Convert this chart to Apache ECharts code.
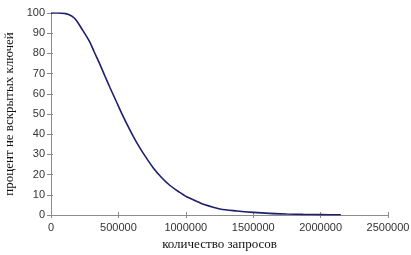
<!DOCTYPE html>
<html><head><meta charset="utf-8">
<script src="https://cdn.jsdelivr.net/npm/echarts@6/dist/echarts.min.js"></script>
<style>html,body{margin:0;padding:0;background:#fff}#c{width:411px;height:255px}</style>
</head><body><div id="c"></div>
<script>
const requests = [0,50000,100000,130000,160000,190000,228000,260000,289000,320000,363000,400000,438000,487000,536000,586000,636000,685000,759000,820000,883000,950000,1007000,1093000,1130000,1254000,1380000,1501000,1620000,1748000,1870000,2000000,2150000];
const percentUnopened = [100,100,99.8,99.3,98.2,96.2,92.2,88.8,85.5,80.8,74.6,68.8,63,55.8,48.7,42,35.8,30.5,23.3,18.6,14.6,11.4,9,6.4,5.3,3,2,1.3,0.8,0.5,0.3,0.2,0.1];
const xTitle = 'количество запросов';
const yTitle = 'процент не вскрытых ключей';
const axisColor = '#8c8c8c';
const chart = echarts.init(document.getElementById('c'), null, {renderer:'canvas'});
const labelStyle = {color:'#333', fontFamily:'Liberation Sans', fontSize:11};
chart.setOption({
  animation:false,
  grid:{left:51,right:23,top:13,bottom:40, containLabel:false, outerBoundsMode:'none'},
  xAxis:[{
    type:'value', min:0, max:2500000, interval:500000,
    name:xTitle, nameLocation:'middle', nameGap:23,
    nameTextStyle:{fontFamily:'Liberation Serif', fontSize:13, color:'#111'},
    axisLine:{lineStyle:{color:axisColor}},
    axisTick:{show:true, length:3, lineStyle:{color:axisColor}},
    axisLabel:Object.assign({margin:7, formatter:v=>String(v)}, labelStyle),
    splitLine:{show:false}
  },{
    type:'value', min:0, max:2500000, interval:500000, position:'bottom',
    axisLine:{show:false}, axisLabel:{show:false}, splitLine:{show:false},
    axisTick:{show:true, inside:true, length:3, lineStyle:{color:axisColor}}
  }],
  yAxis:[{
    type:'value', min:0, max:100, interval:10,
    name:yTitle, nameLocation:'middle', nameGap:32, nameRotate:90,
    nameTextStyle:{fontFamily:'Liberation Serif', fontSize:13, color:'#111'},
    axisLine:{show:true, lineStyle:{color:axisColor}},
    axisTick:{show:true, length:4, lineStyle:{color:axisColor}},
    axisLabel:Object.assign({margin:6}, labelStyle),
    splitLine:{show:false}
  },{
    type:'value', min:0, max:100, interval:10, position:'left',
    axisLine:{show:false}, axisLabel:{show:false}, splitLine:{show:false},
    axisTick:{show:true, inside:true, length:2, lineStyle:{color:axisColor}}
  }],
  series:[{
    type:'line', xAxisIndex:0, yAxisIndex:0,
    data:requests.map((x,i)=>[x,percentUnopened[i]]),
    smooth:0.3, showSymbol:false,
    lineStyle:{color:'#1e1e6e', width:1.6}
  }]
});
</script></body></html>
